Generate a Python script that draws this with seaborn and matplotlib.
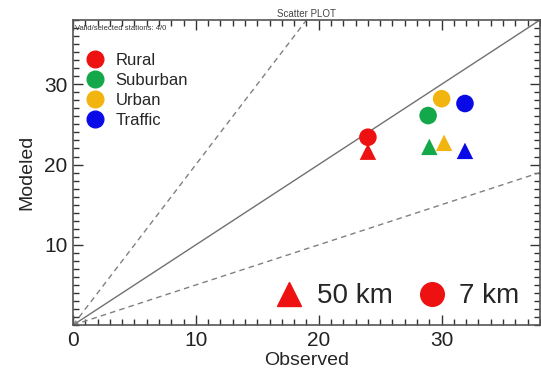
import pandas as pd
import seaborn as sns
import matplotlib.pyplot as plt
import numpy as np
from matplotlib.lines import Line2D
from matplotlib.ticker import MultipleLocator

# values
categories = ["Rural", "Suburban", "Urban", "Traffic"]
colors = ["#ee1111", "#13a84a", "#f2b50f", "#0a0ae6"]
obs_7km = [24.0, 28.9, 30.0, 31.9]
mod_7km = [23.4, 26.1, 28.2, 27.6]
obs_50km = [24.0, 29.0, 30.2, 31.9]
mod_50km = [21.6, 22.2, 22.7, 21.7]
resolutions = ["7 km", "50 km"]

def build_frame():
    rows = []
    for i, cat in enumerate(categories):
        rows.append({"Station": cat, "Res": "7 km", "Observed": obs_7km[i], "Modeled": mod_7km[i]})
        rows.append({"Station": cat, "Res": "50 km", "Observed": obs_50km[i], "Modeled": mod_50km[i]})
    return pd.DataFrame(rows)

data = build_frame()

sns.set_style("ticks")
plt.rcParams['font.family'] = ['Liberation Sans', 'DejaVu Sans']

fig = plt.figure(figsize=(5.41, 3.78), dpi=100)
ax = fig.add_axes([0.135, 0.14, 0.863, 0.807])

lim = 38
xs = np.array([0, lim])
ax.plot(xs, xs, color="#707070", lw=1.0, zorder=1)
ax.plot(xs, 2 * xs, color="#808080", lw=1.0, ls=(0, (4, 3)), zorder=1)
ax.plot(xs, xs / 2, color="#808080", lw=1.0, ls=(0, (4, 3)), zorder=1)

palette = dict(zip(categories, colors))
sub = data[data["Res"] == "7 km"]
sns.scatterplot(data=sub, x="Observed", y="Modeled", hue="Station", palette=palette,
                marker="o", s=160, linewidth=0, legend=False, ax=ax, zorder=3)
sub = data[data["Res"] == "50 km"]
sns.scatterplot(data=sub, x="Observed", y="Modeled", hue="Station", palette=palette,
                marker="^", s=140, linewidth=0, legend=False, ax=ax, zorder=3)

ax.set_xlim(0, lim)
ax.set_ylim(0, lim)
ax.xaxis.set_major_locator(MultipleLocator(10))
ax.yaxis.set_major_locator(MultipleLocator(10))
ax.xaxis.set_minor_locator(MultipleLocator(1))
ax.yaxis.set_minor_locator(MultipleLocator(1))
ax.tick_params(which="both", direction="in", top=True, right=True, color="#333333",
               labelsize=15, pad=4, labelcolor="#222222")
ax.tick_params(which="major", length=7, width=1)
ax.tick_params(which="minor", length=4, width=1)
ax.set_yticks([10, 20, 30])
for s in ax.spines.values():
    s.set_color("#555555")
    s.set_linewidth(1.2)

ax.set_xlabel("Observed", fontsize=14, labelpad=2)
ax.set_ylabel("Modeled", fontsize=14, labelpad=6)
ax.set_title("Scatter PLOT", fontsize=7, color="#444444", pad=2)
ax.text(0.005, 0.985, "Valid/selected stations: 4/0", transform=ax.transAxes,
        fontsize=5.5, color="#333333", ha="left", va="top")

handles = [Line2D([], [], marker="o", ls="", color=c, markersize=12) for c in colors]
leg1 = ax.legend(handles, categories, loc="upper left", bbox_to_anchor=(0.0, 0.93),
                 frameon=False, fontsize=12, handletextpad=0.65, labelspacing=0.3,
                 borderpad=0.2, handlelength=1.2)
ax.add_artist(leg1)

res_handles = [Line2D([], [], marker="^", ls="", color="#ee1111", markersize=17),
               Line2D([], [], marker="o", ls="", color="#ee1111", markersize=17)]
ax.legend(res_handles, ["50 km", "7 km"], loc="lower right", bbox_to_anchor=(1.01, -0.03),
          frameon=False, fontsize=20, ncol=2, handletextpad=0.4, columnspacing=0.8,
          handlelength=1.2)

fig.savefig("out.png", dpi=100)
